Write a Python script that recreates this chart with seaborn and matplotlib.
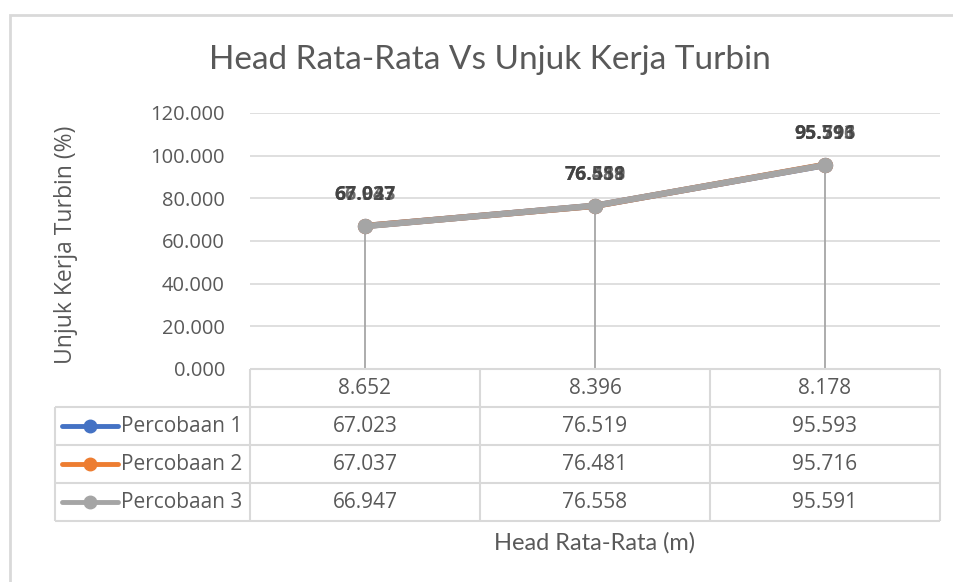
import numpy as np
import pandas as pd
import matplotlib
matplotlib.use("Agg")
import matplotlib.pyplot as plt
from matplotlib.patches import Rectangle
import seaborn as sns

# data
head_labels = ["8.652", "8.396", "8.178"]
series_names = ["Percobaan 1", "Percobaan 2", "Percobaan 3"]
percobaan_1 = [67.023, 76.519, 95.593]
percobaan_2 = [67.037, 76.481, 95.716]
percobaan_3 = [66.947, 76.558, 95.591]
colors = ["#4472C4", "#ED7D31", "#A5A5A5"]

sns.set_theme(style="white")
plt.rcParams["font.family"] = ["Open Sans", "DejaVu Sans"]

W, H = 954, 582
fig = plt.figure(figsize=(W / 100, H / 100), dpi=100)


def px_box(x0, y0, x1, y1):
    return [x0 / W, 1 - y1 / H, (x1 - x0) / W, (y1 - y0) / H]


# outer chart frame (runs off the right/bottom edge)
fig.patches.append(Rectangle((10 / W, -0.05), 1.1, 1 - 15 / H + 0.05,
                             transform=fig.transFigure, fill=False,
                             edgecolor="#D9D9D9", linewidth=2))

ax = fig.add_axes(px_box(250, 113, 940, 369))

values = [percobaan_1, percobaan_2, percobaan_3]
df = pd.DataFrame({
    "pos": np.tile(np.arange(len(head_labels)), len(series_names)),
    "value": np.concatenate(values),
    "series": np.repeat(series_names, len(head_labels)),
})

# drop lines
top = df.groupby("pos")["value"].max()
ax.vlines(top.index, 0, top.values, color="#A6A6A6", linewidth=1.3, zorder=1)

sns.lineplot(data=df, x="pos", y="value", hue="series", palette=colors,
             marker="o", markersize=11, markeredgewidth=0, linewidth=4.5,
             legend=False, ax=ax, zorder=3)

for vals in values:
    for i, v in enumerate(vals):
        ax.annotate(f"{v:.3f}", (i, v), xytext=(0, 31), textcoords="offset pixels",
                    ha="center", va="center", fontsize=14, fontweight="bold",
                    color="#404040", alpha=0.75)

ax.set_xlim(-0.5, len(head_labels) - 0.5)
ax.set_ylim(0, 120)
ax.set_yticks(np.arange(0, 121, 20))
ax.set_yticklabels([f"{t:.3f}" for t in np.arange(0, 121, 20)], fontsize=14.5,
                   color="#595959")
ax.set_xticks([])
ax.set_xlabel("")
ax.set_ylabel("Unjuk Kerja Turbin (%)", fontsize=16.5, color="#595959")
ax.yaxis.set_label_coords(-0.25, 0.484)
ax.grid(axis="y", color="#D9D9D9", linewidth=1.2)
ax.tick_params(axis="y", length=0, pad=18)
for s in ax.spines.values():
    s.set_visible(False)
ax.set_facecolor("none")

fig.text(490 / W, 1 - 60 / H, "Head Rata-Rata Vs Unjuk Kerja Turbin", ha="center",
         va="center", fontsize=24, color="#595959", family=["Lato", "DejaVu Sans"])

# data table
cat_px = 230
left_units = 195 / cat_px
tax = fig.add_axes(px_box(55, 369, 940, 521))
x_min = -0.5 - left_units
tax.set_xlim(x_min, len(head_labels) - 0.5)
tax.set_ylim(4, 0)
tax.axis("off")
grid_kw = dict(color="#D9D9D9", linewidth=1.5, clip_on=False)
x_edges = np.arange(len(head_labels) + 1) - 0.5
tax.vlines(x_edges, 0, 4, **grid_kw)
tax.vlines([x_min], 1, 4, **grid_kw)
tax.hlines([0], -0.5, x_edges[-1], **grid_kw)
tax.hlines([1, 2, 3, 4], x_min, x_edges[-1], **grid_kw)

for i, lab in enumerate(head_labels):
    tax.text(i, 0.5, lab, ha="center", va="center", fontsize=15, color="#595959")
for r, (name, vals, c) in enumerate(zip(series_names, values, colors), start=1):
    tax.plot([x_min + 7 / cat_px, x_min + 63 / cat_px], [r + 0.5, r + 0.5], color=c,
             linewidth=3.5, solid_capstyle="round")
    tax.plot([x_min + 35 / cat_px], [r + 0.5], "o", color=c, markersize=9)
    tax.text(x_min + 66 / cat_px, r + 0.5, name, ha="left", va="center",
             fontsize=15, color="#595959")
    for i, v in enumerate(vals):
        tax.text(i, r + 0.5, f"{v:.3f}", ha="center", va="center", fontsize=15,
                 color="#595959")

fig.text(595 / W, 1 - 543 / H, "Head Rata-Rata (m)", ha="center", va="center",
         fontsize=17, color="#595959", family=["Lato", "DejaVu Sans"])

fig.savefig("out.png", dpi=100)
